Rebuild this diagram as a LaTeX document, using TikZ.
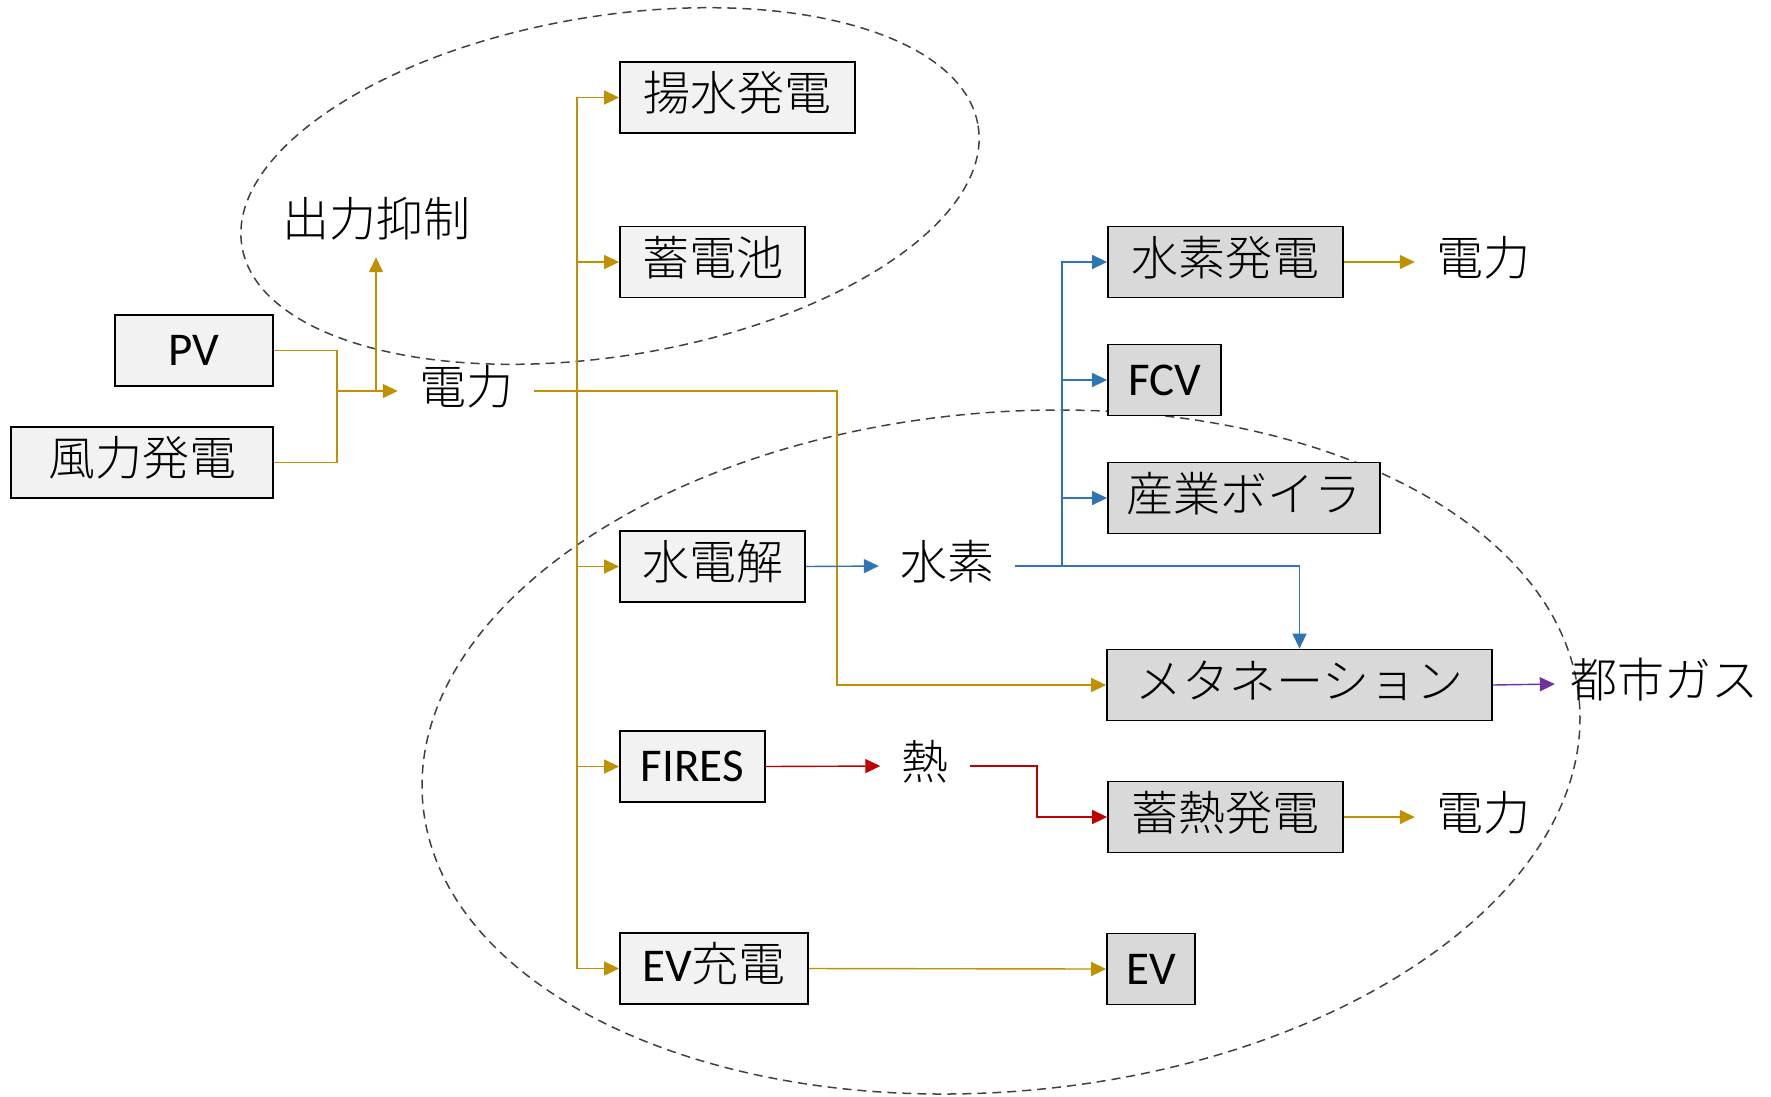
\documentclass[tikz,border=0pt]{standalone}
\usepackage{fontspec}
\setmainfont{Carlito}
\IfFontExistsTF{Noto Sans CJK JP Light}
  {\newfontfamily\jp{Noto Sans CJK JP Light}}
  {\newfontfamily\jp{Noto Sans CJK JP}}
\usetikzlibrary{arrows.meta}
\definecolor{gold}{HTML}{BF9000}
\definecolor{hblue}{HTML}{2E75B6}
\definecolor{hred}{HTML}{C00000}
\definecolor{hpurple}{HTML}{7030A0}
\definecolor{lightbox}{HTML}{F2F2F2}
\definecolor{darkbox}{HTML}{D9D9D9}
\definecolor{ellcol}{HTML}{404040}
\begin{document}
\begin{tikzpicture}[x=1pt,y=-1pt,
  font=\fontsize{47}{52}\selectfont,
  box/.style={draw=black, line width=1.8pt, minimum height=71pt, inner sep=0pt, anchor=center},
  lbox/.style={box, fill=lightbox},
  dbox/.style={box, fill=darkbox},
  cjk/.style={text height=34pt, text depth=8pt},
  lbl/.style={cjk, inner xsep=21pt, inner ysep=0pt},
  conn/.style={line width=1.4pt},
  arr/.style={conn, -{Triangle[length=15pt,width=14pt]}},
  ellsty/.style={draw=ellcol, line width=1.5pt, dash pattern=on 9pt off 6pt}]
\useasboundingbox (0,0) rectangle (1771,1096);
% groupings
\draw[ellsty, rotate around={9.3:(610,186)}] (610,186) ellipse [x radius=373, y radius=170];
\draw[ellsty, rotate around={5.1:(1001,752)}] (1001,752) ellipse [x radius=580.5, y radius=339.4];
% boxes
\node[lbox, minimum width=158pt] (pv) at (194,350.5) {PV};
\node[lbox, cjk, minimum width=262pt] (wind) at (142,462.5) {\jp 風力発電};
\node[lbox, cjk, minimum width=235pt] (pump) at (737.5,97.5) {\jp 揚水発電};
\node[lbox, cjk, minimum width=185pt] (batt) at (712.5,262) {\jp 蓄電池};
\node[lbox, cjk, minimum width=185pt] (elec) at (712.5,566.5) {\jp 水電解};
\node[lbox, minimum width=145pt] (fires) at (692.5,766.5) {FIRES};
\node[lbox, minimum width=188pt, text height=32pt, text depth=6pt] (evc) at (714,968.5) {EV\jp 充電};
\node[dbox, cjk, minimum width=235pt] (h2p) at (1225.5,262) {\jp 水素発電};
\node[dbox, minimum width=113pt] (fcv) at (1164.5,380) {FCV};
\node[dbox, cjk, minimum width=272pt] (boiler) at (1244,498) {\jp 産業ボイラ};
\node[dbox, cjk, minimum width=385pt] (meth) at (1299.5,685) {\jp メタネーション};
\node[dbox, cjk, minimum width=235pt] (heatp) at (1225.5,817) {\jp 蓄熱発電};
\node[dbox, minimum width=88pt] (ev) at (1151,969) {EV};
% text labels
\node[lbl] (den) at (466,391) {\jp 電力};
\node[lbl, inner xsep=0pt, inner ysep=13pt] (curt) at (376,223) {\jp 出力抑制};
\node[lbl] (hyd) at (947,566) {\jp 水素};
\node[lbl] (heat) at (925,766) {\jp 熱};
\node[lbl] (den2) at (1483,262) {\jp 電力};
\node[lbl] (den3) at (1483,817) {\jp 電力};
\node[lbl, inner xsep=15pt] (gas) at (1664,684) {\jp 都市ガス};
% junctions
\coordinate (j1) at (337,391);
\coordinate (j2) at (376,391);
\coordinate (bus) at (577,391);
\coordinate (k2) at (837,685);
\coordinate (h1) at (1062,566);
\coordinate (r1) at (1037,790);
% connectors
\draw[conn,gold] (pv.east) -| (j1);
\draw[conn,gold] (wind.east) -| (j1);
\draw[arr,gold] (j1) -- (den.west);
\draw[arr,gold] (j2) -- (curt.south);
\draw[arr,gold] (bus) |- (pump.west);
\draw[arr,gold] (bus) |- (batt.west);
\draw[arr,gold] (bus) |- (elec.west);
\draw[arr,gold] (bus) |- (fires.west);
\draw[arr,gold] (bus) |- (evc.west);
\draw[arr,gold] (den.east) -| (k2) -- (meth.west);
\draw[arr,hblue] (elec.east) -- (hyd.west);
\draw[conn,hblue] (hyd.east) -- (h1);
\draw[arr,hblue] (h1) |- (h2p.west);
\draw[arr,hblue] (h1) |- (fcv.west);
\draw[arr,hblue] (h1) |- (boiler.west);
\draw[arr,hblue] (hyd.east) -| (meth.north);
\draw[arr,hred] (fires.east) -- (heat.west);
\draw[arr,hred] (heat.east) -| (r1) |- (heatp.west);
\draw[arr,gold] (h2p.east) -- (den2.west);
\draw[arr,gold] (heatp.east) -- (den3.west);
\draw[arr,hpurple] (meth.east) -- (gas.west);
\draw[arr,gold] (evc.east) -- (ev.west);
\end{tikzpicture}
\end{document}
